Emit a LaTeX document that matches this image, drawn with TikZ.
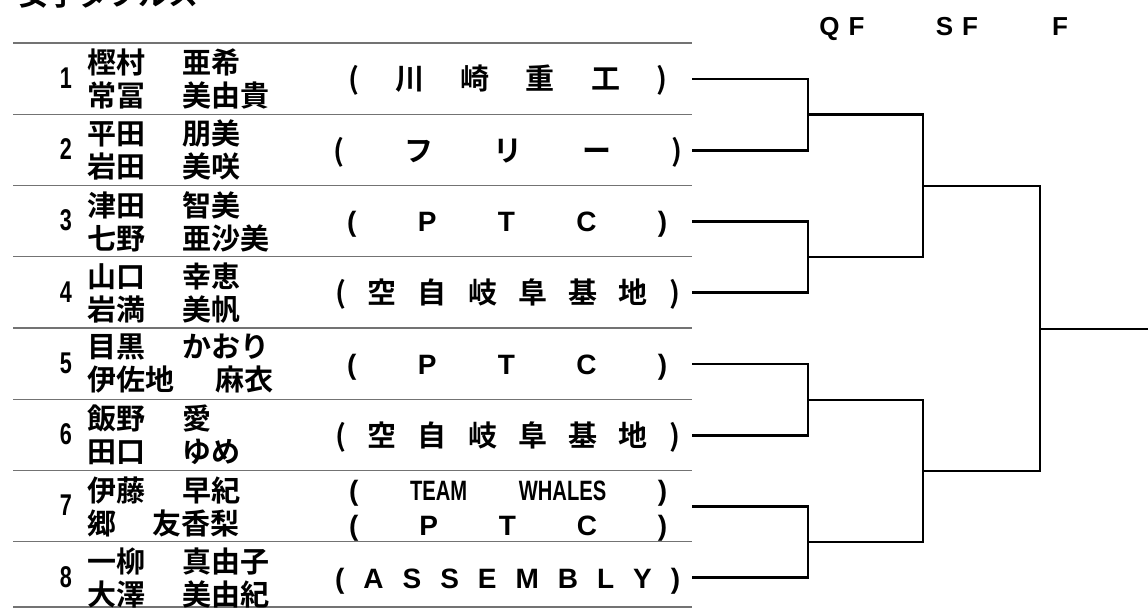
\documentclass[tikz,border=0pt]{standalone}
\usepackage{fontspec}
\setmainfont{Liberation Sans}
\newfontfamily\jpfont{Noto Sans CJK JP}[BoldFont={Noto Sans CJK JP Bold}]
\newfontfamily\narrowfont{Liberation Sans}[FakeStretch=0.72]
\newcommand\duo[2]{\makebox[95pt][l]{#1}#2}
\newcommand\spread[2]{\makebox[#1][s]{#2}}

\begin{document}
\begin{tikzpicture}[x=1pt, y=-1pt,
    seed/.style={font=\narrowfont\bfseries\fontsize{30}{30}\selectfont, inner sep=0pt},
    pair/.style={font=\jpfont\bfseries\fontsize{29}{33}\selectfont, align=left, anchor=west, inner sep=0pt},
    club/.style={font=\bfseries\fontsize{28}{28}\selectfont, anchor=base west, inner sep=0pt},
    jclub/.style={club, font=\jpfont\bfseries\fontsize{29}{29}\selectfont},
    sepline/.style={black!55, line width=1.2pt},
    bracket/.style={line width=2.6pt},
    roundlabel/.style={font=\bfseries\fontsize{26}{26}\selectfont, anchor=base}]
    \useasboundingbox (0,0) rectangle (1148,609);
    % Title and round labels
    \node (title) [font=\jpfont\bfseries\fontsize{30}{30}\selectfont, anchor=base west, inner sep=0pt] at (18,6) {女子ダブルス};
    \node (qf) [roundlabel] at (842,36) {Q\hspace{9pt}F};
    \node (sf) [roundlabel] at (957,36) {S\hspace{9pt}F};
    \node (fl) [roundlabel] at (1060,36) {F};
    % Table lines
    \foreach \y in {43,114.25,185.5,256.75,328,399.25,470.5,541.75,607}
        \draw[sepline] (13,\y) -- (692,\y);
    % Seeds
    \node (n1) [seed] at (66,78) {1};
    \node (n2) [seed] at (66,149.25) {2};
    \node (n3) [seed] at (66,220.5) {3};
    \node (n4) [seed] at (66,291.75) {4};
    \node (n5) [seed] at (66,363) {5};
    \node (n6) [seed] at (66,434.25) {6};
    \node (n7) [seed] at (66,505.5) {7};
    \node (n8) [seed] at (66,576.75) {8};
    % Players
    \node (p1) [pair] at (87,79) {\duo{樫村}{亜希}\\\duo{常冨}{美由貴}};
    \node (p2) [pair] at (87,150.25) {\duo{平田}{朋美}\\\duo{岩田}{美咲}};
    \node (p3) [pair] at (87,221.5) {\duo{津田}{智美}\\\duo{七野}{亜沙美}};
    \node (p4) [pair] at (87,292.75) {\duo{山口}{幸恵}\\\duo{岩満}{美帆}};
    \node (p5) [pair] at (87,364) {\duo{目黒}{かおり}\\\makebox[128pt][l]{伊佐地}麻衣};
    \node (p6) [pair] at (87,435.25) {\duo{飯野}{愛}\\\duo{田口}{ゆめ}};
    \node (p7) [pair] at (87,506.5) {\duo{伊藤}{早紀}\\\makebox[65pt][l]{郷}友香梨};
    \node (p8) [pair] at (87,577.75) {\duo{一柳}{真由子}\\\duo{大澤}{美由紀}};
    % Clubs
    \node (c1) [jclub] at (348,90) {\spread{319pt}{(\hfill 川\hfill 崎\hfill 重\hfill 工\hfill)}};
    \node (c2) [jclub] at (333,161.25) {\spread{349pt}{(\hfill フ\hfill リ\hfill ー\hfill)}};
    \node (c3) [club] at (347,232) {\spread{320pt}{(\hfill P\hfill T\hfill C\hfill)}};
    \node (c4) [jclub] at (335,303.75) {\spread{345pt}{(\hfill 空\hfill 自\hfill 岐\hfill 阜\hfill 基\hfill 地\hfill)}};
    \node (c5) [club] at (347,374.5) {\spread{320pt}{(\hfill P\hfill T\hfill C\hfill)}};
    \node (c6) [jclub] at (335,446.25) {\spread{345pt}{(\hfill 空\hfill 自\hfill 岐\hfill 阜\hfill 基\hfill 地\hfill)}};
    \node (c7a) [club] at (349,500) {\spread{318pt}{(\hfill{\narrowfont TEAM}\hfill{\narrowfont WHALES}\hfill)}};
    \node (c7b) [club] at (349,535) {\spread{318pt}{(\hfill P\hfill T\hfill C\hfill)}};
    \node (c8) [club] at (335,588) {\spread{345pt}{(\hfill A\hfill S\hfill S\hfill E\hfill M\hfill B\hfill L\hfill Y\hfill)}};
    % Draw points
    \coordinate (e1) at (692,79);
    \coordinate (e2) at (692,150.25);
    \coordinate (e3) at (692,221.5);
    \coordinate (e4) at (692,292.75);
    \coordinate (e5) at (692,364);
    \coordinate (e6) at (692,435.25);
    \coordinate (e7) at (692,506.5);
    \coordinate (e8) at (692,577.75);
    \coordinate (q1) at (808,114.6);
    \coordinate (q2) at (808,257);
    \coordinate (q3) at (808,400);
    \coordinate (q4) at (808,542);
    \coordinate (s1) at (923,186);
    \coordinate (s2) at (923,471);
    \coordinate (fin) at (1040,329);
    \coordinate (win) at (1148,329);
    % Bracket
    \draw[bracket] (e1) -| (q1) |- (e2);
    \draw[bracket] (e3) -| (q2) |- (e4);
    \draw[bracket] (e5) -| (q3) |- (e6);
    \draw[bracket] (e7) -| (q4) |- (e8);
    \draw[bracket] (q1) -| (s1) |- (q2);
    \draw[bracket] (q3) -| (s2) |- (q4);
    \draw[bracket] (s1) -| (fin) |- (s2);
    \draw[bracket] (fin) -- (win);
\end{tikzpicture}
\end{document}
